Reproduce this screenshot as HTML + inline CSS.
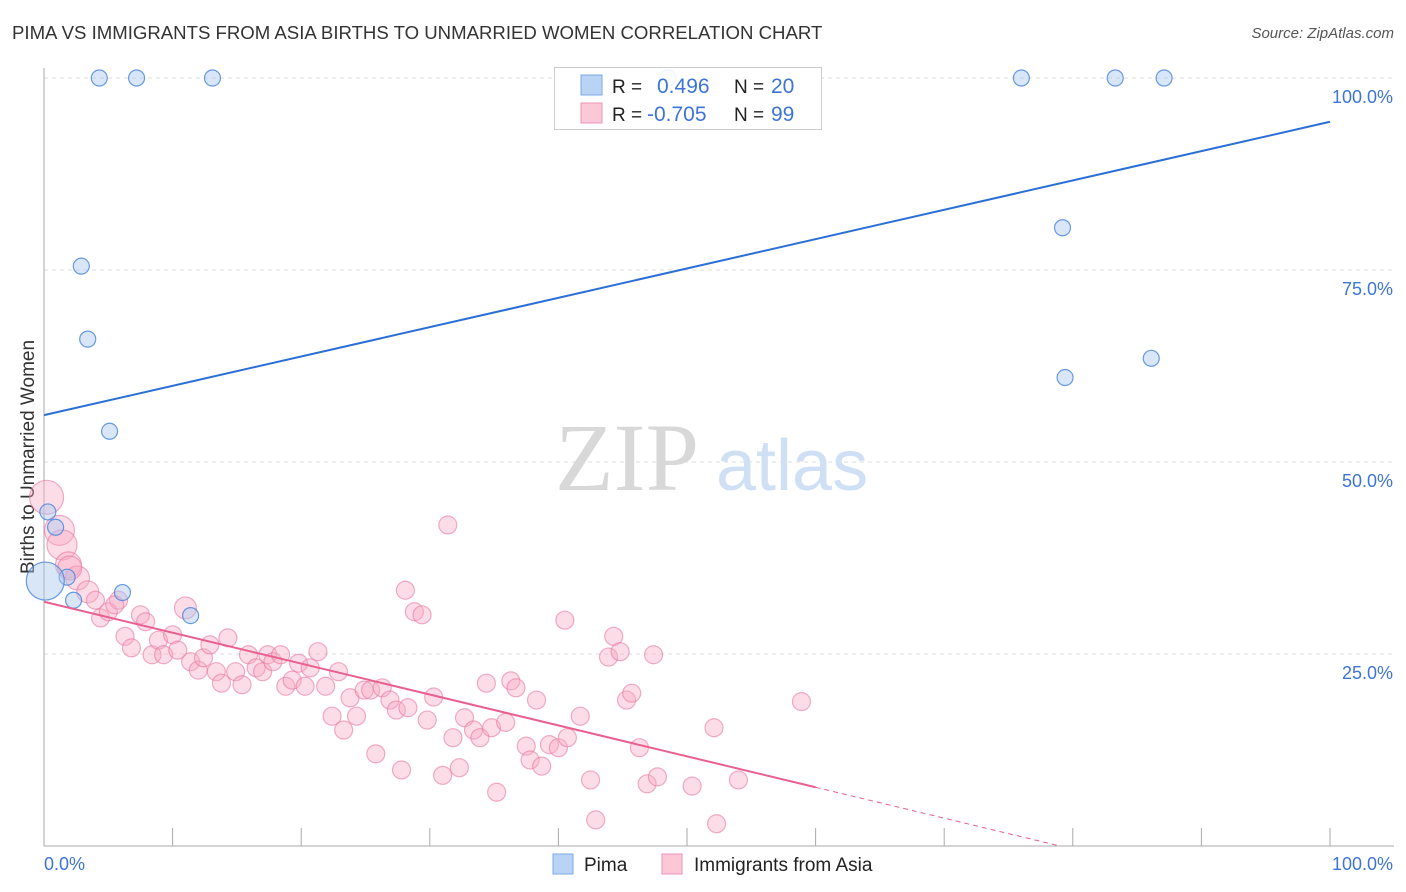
<!DOCTYPE html>
<html><head><meta charset="utf-8">
<style>
body{margin:0;background:#fff;font-family:"Liberation Sans",sans-serif;}
#wrap{position:relative;width:1406px;height:892px;overflow:hidden;}
.t{position:absolute;white-space:nowrap;}
</style></head>
<body>
<div id="wrap">
<div class="t" style="left:12px;top:22px;font-size:18.6px;color:#333;">PIMA VS IMMIGRANTS FROM ASIA BIRTHS TO UNMARRIED WOMEN CORRELATION CHART</div>
<div class="t" style="right:12px;top:25px;font-size:15px;color:#555;font-style:italic;">Source: ZipAtlas.com</div>
<svg id="svg" width="1406" height="892" style="position:absolute;left:0;top:0"></svg>
</div>
<script>
const pimaX=[4.3,7.2,13.1,48.5,76.0,83.3,87.1,2.9,3.4,5.1,79.2,79.4,86.1,0.3,0.9,1.8,2.3,6.1,11.4,0.1];
const pimaY=[100,100,100,100,100,100,100,75.5,66,54,80.5,61,63.5,43.5,41.5,35,32,33,30,34.5];
const pimaR=[8,8,8,8,8,8,8,8,8,8,8,8,8,8,8,8,8,8,8,19];
const asiaX=[0.2,1.2,1.4,1.9,2.6,2.0,3.4,4.0,4.4,5.0,5.8,5.5,6.3,6.8,7.5,7.9,8.4,8.9,9.3,10.0,10.4,11.0,11.4,12.0,12.4,12.9,13.4,13.8,14.3,14.9,15.4,15.9,16.5,17.0,17.4,17.8,18.4,18.8,19.3,19.8,20.3,20.7,21.3,21.9,22.4,22.9,23.3,23.8,24.3,24.9,25.4,25.8,26.3,26.9,27.4,27.8,28.3,28.1,28.8,29.4,29.8,30.3,31.0,31.4,31.8,32.3,32.7,33.4,33.9,34.4,34.8,35.2,35.9,36.3,36.7,37.5,37.8,38.3,38.7,39.3,40.0,40.5,40.7,41.7,42.5,42.9,43.9,44.3,44.8,45.3,45.7,46.3,46.9,47.4,47.7,50.4,52.1,52.3,54.0,58.9];
const asiaY=[45.4,41.1,39.2,36.6,34.9,36.2,33.1,32.0,29.7,30.5,32.0,31.4,27.3,25.8,30.1,29.2,24.9,26.8,24.9,27.5,25.5,31.0,24.0,22.9,24.5,26.2,22.7,21.2,27.1,22.7,21.0,24.9,23.2,22.7,24.9,24.0,24.9,20.8,21.6,23.8,20.8,23.2,25.3,20.8,16.9,22.7,15.1,19.3,16.9,20.3,20.3,12.0,20.6,19.0,17.7,9.9,18.0,33.3,30.5,30.1,16.4,19.4,9.2,41.8,14.1,10.2,16.7,15.1,14.1,21.2,15.4,7.0,16.1,21.5,20.6,13.0,11.2,19.0,10.4,13.2,12.8,29.4,14.1,16.9,8.6,3.4,24.6,27.3,25.3,19.0,19.9,12.8,8.1,24.9,9.0,7.8,15.4,2.9,8.6,18.8];
const asiaBig=[17,15,15,13,12,12,11];
const yTicks=[25,50,75,100];
const xTickLabels=["0.0%","100.0%"];
const blueLine=[56.1,94.3];const pinkLine=[31.8,0.0];const pinkSolidEnd=60;
const X0=44,X1=1330,Y0=846,Y1=78;
const sx=v=>X0+(X1-X0)*v/100, sy=v=>Y0-(Y0-Y1)*v/100;
const svg=document.getElementById('svg');const NS='http://www.w3.org/2000/svg';
function mk(tag,a,name){const e=document.createElementNS(NS,tag);for(const k in a)e.setAttribute(k,a[k]);


svg.appendChild(e);return e;}
yTicks.forEach(v=>{mk('line',{x1:X0,x2:1394,y1:sy(v),y2:sy(v),stroke:'#ddd','stroke-dasharray':'4,4'},'gridline-'+v);
const t=mk('text',{x:1393,y:sy(v)+25,'text-anchor':'end','font-size':18,fill:'#3d74d6','font-family':'Liberation Sans'},'y-tick-label');t.textContent=v.toFixed(1)+'%';});
mk('line',{x1:X0,x2:X0,y1:68,y2:Y0,stroke:'#aaa'},'y-axis');
mk('line',{x1:X0,x2:1394,y1:Y0,y2:Y0,stroke:'#aaa'},'x-axis');
for(let i=0;i<=10;i++){mk('line',{x1:sx(i*10),x2:sx(i*10),y1:Y0,y2:Y0-18,stroke:'#aaa'},'x-tick');}
let t=mk('text',{x:44,y:870,'font-size':18,fill:'#3d74d6','font-family':'Liberation Sans'},'x-tick-label-min');t.textContent=xTickLabels[0];
t=mk('text',{x:1393,y:870,'text-anchor':'end','font-size':18,fill:'#3d74d6','font-family':'Liberation Sans'},'x-tick-label-max');t.textContent=xTickLabels[1];
t=mk('text',{x:34,y:457,'text-anchor':'middle','font-size':19,fill:'#333','font-family':'Liberation Sans',transform:'rotate(-90 34 457)'},'y-axis-title');t.textContent='Births to Unmarried Women';
t=mk('text',{x:555,y:490,'font-size':96,fill:'#d8d8d8','font-family':'Liberation Serif'},'watermark-zip');t.textContent='ZIP';
t=mk('text',{x:716,y:490,'font-size':72,fill:'#cfe0f5','font-family':'Liberation Sans'},'watermark-atlas');t.textContent='atlas';
asiaX.forEach((x,i)=>{mk('circle',{cx:sx(x),cy:sy(asiaY[i]),r:asiaBig[i]||(i==21?11:9),fill:'rgba(247,170,195,0.4)',stroke:'rgba(232,120,160,0.6)','stroke-width':1.2},'asia-point');});
pimaX.forEach((x,i)=>{mk('circle',{cx:sx(x),cy:sy(pimaY[i]),r:pimaR[i],fill:'rgba(168,200,240,0.45)',stroke:'rgba(70,130,220,0.8)','stroke-width':1.2},'pima-point');});
mk('line',{x1:sx(0),y1:sy(blueLine[0]),x2:sx(100),y2:sy(blueLine[1]),stroke:'#2a6fd6','stroke-width':2},'pima-trend-line');
const slope=(pinkLine[1]-pinkLine[0])/79;
mk('line',{x1:sx(0),y1:sy(pinkLine[0]),x2:sx(pinkSolidEnd),y2:sy(pinkLine[0]+slope*pinkSolidEnd),stroke:'#e8608f','stroke-width':2},'asia-trend-line');
mk('line',{x1:sx(pinkSolidEnd),y1:sy(pinkLine[0]+slope*pinkSolidEnd),x2:sx(79),y2:sy(0),stroke:'#e8608f','stroke-width':1,'stroke-dasharray':'5,4'},'asia-trend-extension');
mk('rect',{x:554.5,y:67.5,width:267,height:62,fill:'rgba(255,255,255,0.9)',stroke:'#ccc'},'legend-box');
mk('rect',{x:581,y:75,width:21,height:20,fill:'#b9d3f4',stroke:'#7aa8e6'},'legend-swatch-pima');
mk('rect',{x:581,y:103,width:21,height:20,fill:'#fbc8d7',stroke:'#ec94b0'},'legend-swatch-asia');
[[93,'R = ','0.496','20',657],[121,'R = ','-0.705','99',647]].forEach((r,i)=>{
let a=mk('text',{x:612,y:r[0],'font-size':19,fill:'#222','font-family':'Liberation Sans'},'legend-r-label');a.textContent=r[1];
a=mk('text',{x:r[4],y:r[0],'font-size':21,fill:'#3d74d6','font-family':'Liberation Sans'},'legend-r-value');a.textContent=r[2];
a=mk('text',{x:734,y:r[0],'font-size':19,fill:'#222','font-family':'Liberation Sans'},'legend-n-label');a.textContent='N = ';
a=mk('text',{x:771,y:r[0],'font-size':21,fill:'#3d74d6','font-family':'Liberation Sans'},'legend-n-value');a.textContent=r[3];});
mk('rect',{x:553,y:854,width:20,height:20,fill:'#b9d3f4',stroke:'#7aa8e6'},'bottom-legend-swatch-pima');
t=mk('text',{x:584,y:871,'font-size':19,fill:'#222','font-family':'Liberation Sans'},'bottom-legend-pima');t.textContent='Pima';
mk('rect',{x:662,y:854,width:20,height:20,fill:'#fbc8d7',stroke:'#ec94b0'},'bottom-legend-swatch-asia');
t=mk('text',{x:694,y:871,'font-size':19,fill:'#222','font-family':'Liberation Sans'},'bottom-legend-asia');t.textContent='Immigrants from Asia';
</script>
</body></html>
